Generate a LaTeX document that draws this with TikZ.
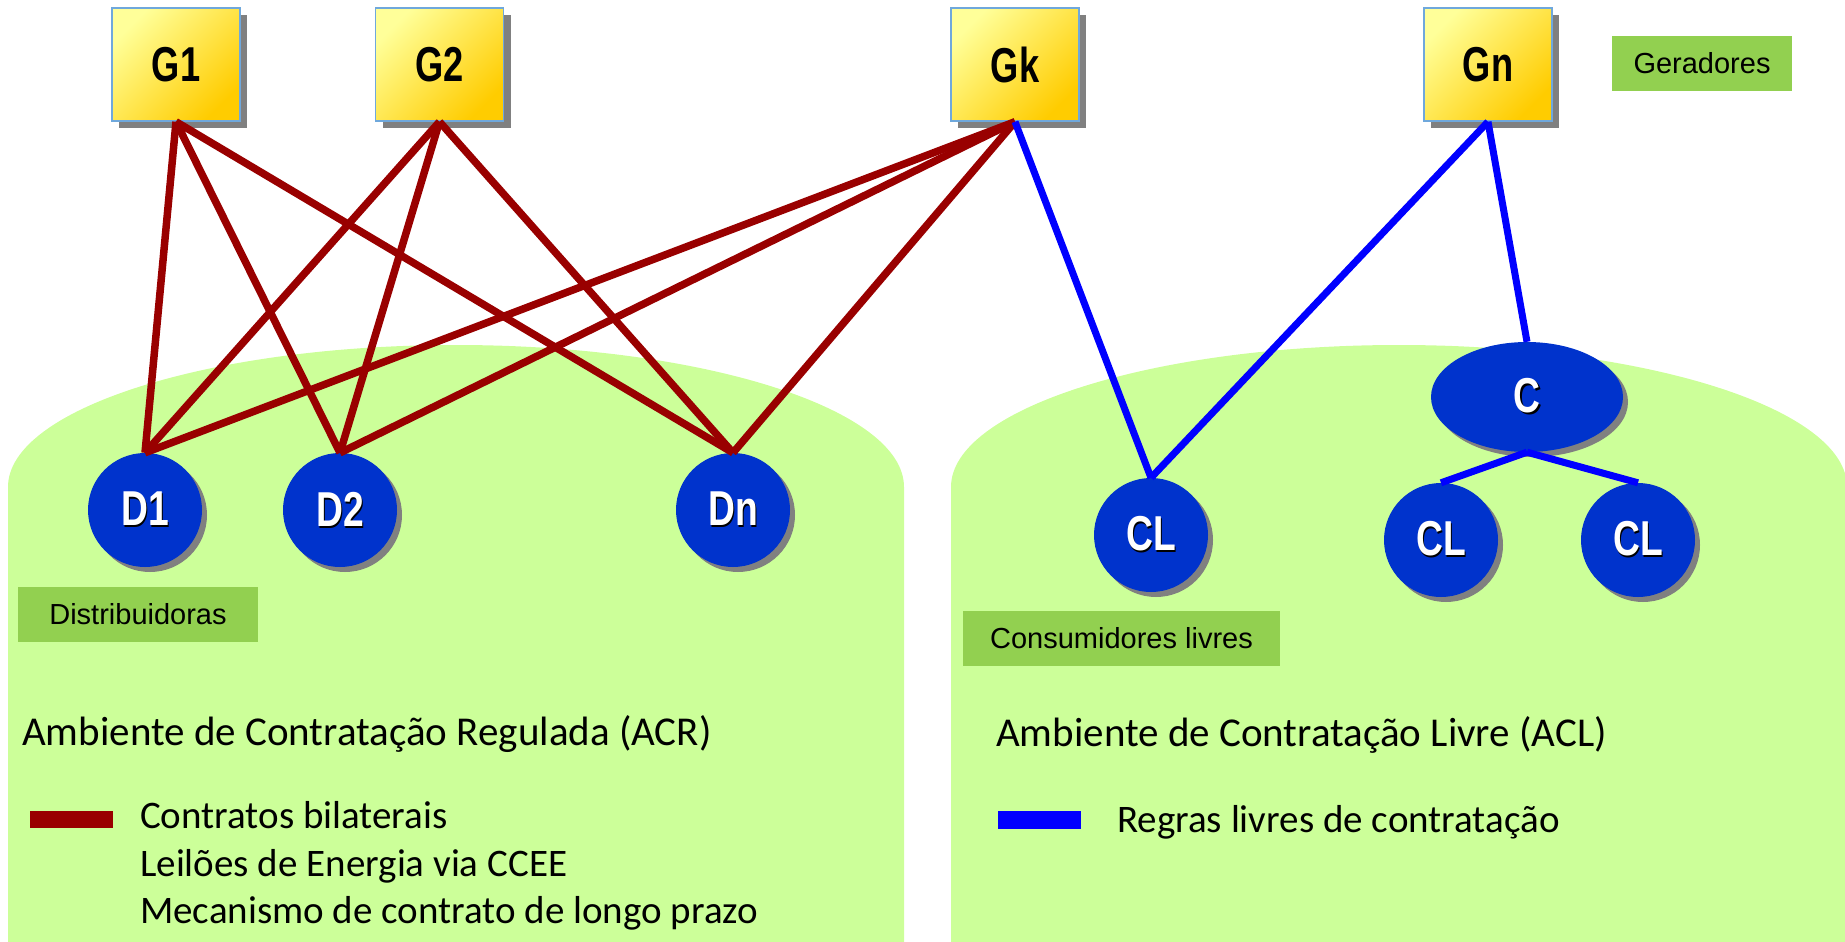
\documentclass[tikz,border=0pt]{standalone}
\usepackage{fontspec}
\setmainfont{Carlito}
\newfontfamily\arialfont{Liberation Sans}
\usetikzlibrary{shapes.geometric,shadows}

\definecolor{verdeamb}{HTML}{CCFF99}
\definecolor{verderot}{HTML}{92D050}
\definecolor{vermbil}{HTML}{990000}
\definecolor{azullivre}{HTML}{0000FF}
\definecolor{azulag}{HTML}{0033CC}
\definecolor{bordager}{HTML}{6FA8DC}
\definecolor{ourosup}{HTML}{FFFF99}
\definecolor{ouroinf}{HTML}{FFCC00}

\newcommand\gertxt[1]{\scalebox{0.74}[1]{#1}}
\newcommand\agtxt[1]{\scalebox{0.76}[1]{\rlap{\kern2pt\raisebox{-2pt}{\color{black}#1}}#1}}

\begin{document}
\begin{tikzpicture}[x=1pt,y=-1pt,
  gerador/.style={rectangle, draw=bordager, line width=1.5pt,
    top color=ourosup, bottom color=ouroinf, shading angle=45,
    minimum width=128pt, minimum height=113pt, inner sep=0pt,
    font=\arialfont\bfseries\fontsize{49}{50}\selectfont,
    drop shadow={shadow xshift=7pt, shadow yshift=-7pt, fill=gray, opacity=1}},
  agente/.style={circle, fill=azulag, minimum size=114pt, inner sep=0pt,
    text=white, font=\arialfont\bfseries\fontsize{49}{50}\selectfont,
    drop shadow={shadow xshift=5pt, shadow yshift=-5pt, fill=gray, opacity=1}},
  rotulo/.style={rectangle, fill=verderot, inner sep=0pt,
    font=\arialfont\fontsize{29}{32}\selectfont},
  titulo/.style={anchor=base west, inner sep=0pt, font=\fontsize{41}{48}\selectfont},
  legenda/.style={anchor=base west, inner sep=0pt, font=\fontsize{39}{47}\selectfont},
  contrato/.style={draw=vermbil, line width=7.5pt},
  livre/.style={draw=azullivre, line width=7pt}]

  \useasboundingbox (0,0) rectangle (1845,942);

  % ambientes
  \fill[verdeamb] (8,942) -- (8,487) .. controls (8,409) and (209,345) .. (456,345)
    .. controls (703,345) and (904,409) .. (904,487) -- (904,942) -- cycle;
  \fill[verdeamb] (951,942) -- (951,487) .. controls (951,409) and (1152,345) .. (1399,345)
    .. controls (1646,345) and (1847,409) .. (1847,487) -- (1847,942) -- cycle;

  % geradores
  \node[gerador] (G1) at (176,64.5) {\gertxt{G1}};
  \node[gerador] (G2) at (439.5,64.5) {\gertxt{G2}};
  \node[gerador] (Gk) at (1015,64.5) {\gertxt{Gk}};
  \node[gerador] (Gn) at (1488,64.5) {\gertxt{Gn}};
  \node[rotulo, minimum width=180pt, minimum height=55pt] (ger) at (1702,63.5) {Geradores};

  % distribuidoras
  \node[agente] (D1) at (145,510) {\agtxt{D1}};
  \node[agente] (D2) at (340,510) {\agtxt{D2}};
  \node[agente] (Dn) at (733,510) {\agtxt{Dn}};
  \node[rotulo, minimum width=240pt, minimum height=55pt] (dist) at (138,614.5) {Distribuidoras};

  % consumidores livres
  \node[agente] (CL1) at (1151,535) {\agtxt{CL}};
  \node[agente, ellipse, minimum width=192pt, minimum height=110pt] (C) at (1527,397) {\agtxt{C}};
  \node[agente] (CL2) at (1441,540) {\agtxt{CL}};
  \node[agente] (CL3) at (1638,540) {\agtxt{CL}};
  \node[rotulo, minimum width=317pt, minimum height=55pt] (cons) at (1121.5,638.5) {Consumidores livres};

  % contratos no ACR
  \draw[contrato] (G1.south) -- (D1.north);
  \draw[contrato] (G1.south) -- (D2.north);
  \draw[contrato] (G1.south) -- (Dn.north);
  \draw[contrato] (G2.south) -- (D1.north);
  \draw[contrato] (G2.south) -- (D2.north);
  \draw[contrato] (G2.south) -- (Dn.north);
  \draw[contrato] (Gk.south) -- (D1.north);
  \draw[contrato] (Gk.south) -- (D2.north);
  \draw[contrato] (Gk.south) -- (Dn.north);

  % contratos no ACL
  \draw[livre] (Gk.south) -- (CL1.north);
  \draw[livre] (Gn.south) -- (CL1.north);
  \draw[livre] (Gn.south) -- (C.north);
  \draw[livre] (C.south) -- (CL2.north);
  \draw[livre] (C.south) -- (CL3.north);

  % textos
  \node[titulo] (acr) at (22,745) {Ambiente de Contratação Regulada (ACR)};
  \node[titulo] (acl) at (996,746) {Ambiente de Contratação Livre (ACL)};

  \fill[vermbil] (30,811) rectangle (113,828);
  \node[legenda] (bil) at (140,828) {Contratos bilaterais};
  \node[legenda] (lei) at (140,876) {Leilões de Energia via CCEE};
  \node[legenda] (mec) at (140,923) {Mecanismo de contrato de longo prazo};

  \fill[azullivre] (998,811) rectangle (1081,829);
  \node[legenda] (reg) at (1117,832) {Regras livres de contratação};
\end{tikzpicture}
\end{document}
